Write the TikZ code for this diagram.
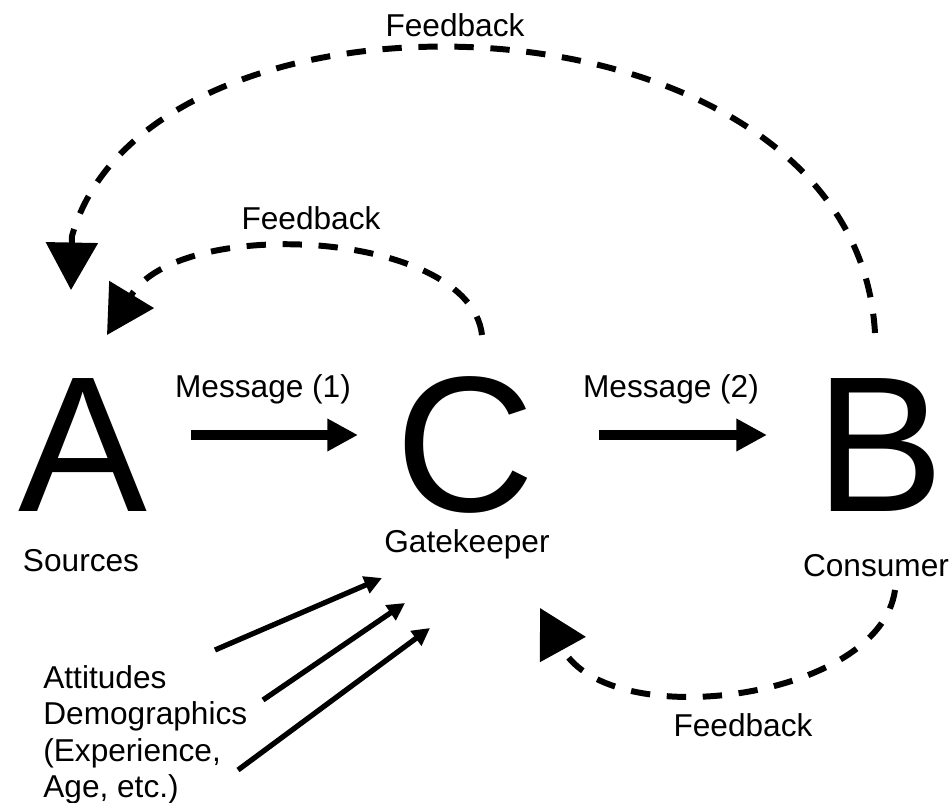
\documentclass[tikz,border=0pt]{standalone}
\usepackage{fontspec}
\setmainfont{Liberation Sans}
\usetikzlibrary{calc,arrows.meta}

\begin{document}
\begin{tikzpicture}[x=0.02cm,y=-0.02cm,
  letter/.style={inner sep=0pt,anchor=base,text depth=0pt,font=\fontsize{110}{110}\selectfont},
  lbl/.style={inner sep=0pt,anchor=base,font=\fontsize{18}{21}\selectfont},
  msg/.style={line width=6.2pt,-{Triangle[length=17.5pt,width=17.5pt]}},
  feed/.style={line width=3.4pt,dash pattern=on 11pt off 9.5pt,-{Triangle[length=27pt,width=29pt]}},
  cause/.style={line width=3pt,-{Triangle[length=10pt,width=10pt]}}]
\useasboundingbox (0,0) rectangle (951,803);

\node[letter] (A) at (83,512) {A};
\node[letter] (C) at (465,512) {C};
\node[letter] (B) at (880,512) {B};
\node[lbl] (src) at (81,572) {Sources};
\node[lbl] (gate) at (467,553) {Gatekeeper};
\node[lbl] (cons) at (876,577) {Consumer};
\node[lbl] (m1) at (263,398) {Message (1)};
\node[lbl] (m2) at (671,398) {Message (2)};
\node[lbl] (fb1) at (455,37) {Feedback};
\node[lbl] (fb2) at (311,230) {Feedback};
\node[lbl] (fb3) at (743,737) {Feedback};
\node[lbl,anchor=north west,align=left,font=\fontsize{18}{20.7}\selectfont] (factors) at (43,665)
  {Attitudes\\Demographics\\(Experience,\\Age, etc.)};

\draw[msg] ($(A.base)+(108,-77)$) -- ($(C.base)+(-107,-77)$);
\draw[msg] ($(C.base)+(134,-77)$) -- ($(B.base)+(-113,-77)$);

% feedback loops
\draw[feed] ($(B.base)+(-5,-179)$) .. controls (855,-20) and (150,-40) .. ($(A.base)+(-11,-276)$)
  -- ($(A.base)+(-12,-222)$);
\draw[feed] ($(C.base)+(17,-177)$) .. controls (470,230) and (180,215) .. ($(A.base)+(24,-177)$);
\draw[feed] ($(B.base)+(15,78)$) .. controls (880,700) and (610,735) .. ($(C.base)+(75,96)$);

\foreach \sx/\sy/\ex/\ey in {172/-15/-85/25, 220/35/-62/50, 195/105/-37/75}
  \draw[cause] ($(factors.north west)+(\sx,\sy)$) -- ($(gate.base)+(\ex,\ey)$);
\end{tikzpicture}
\end{document}
